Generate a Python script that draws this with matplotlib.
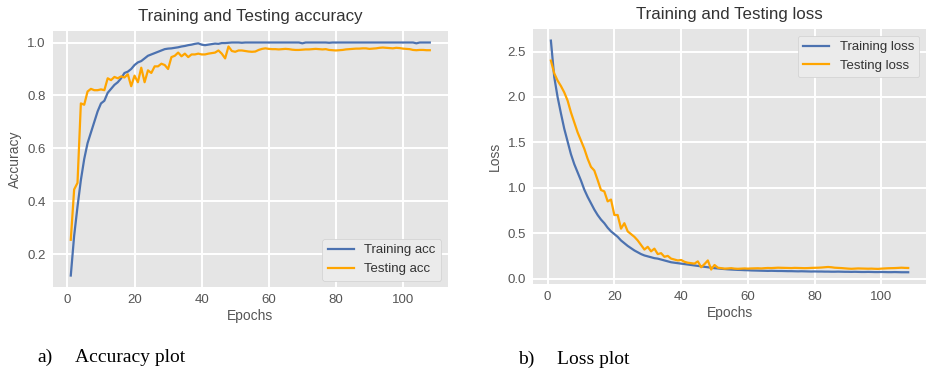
import matplotlib
matplotlib.use("Agg")
import matplotlib.pyplot as plt
import numpy as np

plt.style.use("ggplot")
plt.rcParams["font.family"] = ["Liberation Sans", "DejaVu Sans"]

epochs = np.arange(1, 109)

train_acc = [
    0.12, 0.27, 0.38, 0.48, 0.56, 0.62, 0.66, 0.70, 0.74, 0.77,
    0.78, 0.81, 0.825, 0.84, 0.85, 0.865, 0.885, 0.89, 0.90, 0.915,
    0.925, 0.93, 0.94, 0.95, 0.955, 0.96, 0.965, 0.97, 0.975, 0.977,
    0.978, 0.98, 0.982, 0.985, 0.987, 0.99, 0.992, 0.995, 0.997, 0.992,
    0.99, 0.992, 0.994, 0.996, 0.995, 0.998, 0.998, 0.999, 1.0, 1.0,
    1.0, 0.999, 1.0, 1.0, 1.0, 1.0, 1.0, 1.0, 1.0, 1.0,
    1.0, 1.0, 1.0, 1.0, 1.0, 1.0, 1.0, 1.0, 1.0, 0.997,
    1.0, 1.0, 1.0, 1.0, 1.0, 1.0, 1.0, 0.999, 1.0, 1.0,
    1.0, 1.0, 1.0, 1.0, 1.0, 1.0, 1.0, 1.0, 1.0, 1.0,
    1.0, 1.0, 1.0, 1.0, 1.0, 1.0, 1.0, 1.0, 1.0, 1.0,
    1.0, 1.0, 1.0, 0.997, 1.0, 1.0, 1.0, 1.0,
]

test_acc = [
    0.255, 0.445, 0.47, 0.77, 0.765, 0.815, 0.825, 0.82, 0.82, 0.823,
    0.82, 0.865, 0.858, 0.87, 0.865, 0.872, 0.868, 0.88, 0.835, 0.875,
    0.85, 0.905, 0.85, 0.895, 0.885, 0.91, 0.91, 0.92, 0.915, 0.90,
    0.945, 0.95, 0.962, 0.948, 0.958, 0.945, 0.955, 0.955, 0.958, 0.955,
    0.955, 0.958, 0.96, 0.962, 0.97, 0.958, 0.94, 0.985, 0.968, 0.965,
    0.97, 0.97, 0.968, 0.966, 0.965, 0.966, 0.972, 0.976, 0.978, 0.976,
    0.975, 0.975, 0.974, 0.975, 0.976, 0.975, 0.973, 0.972, 0.972, 0.973,
    0.974, 0.974, 0.975, 0.976, 0.975, 0.974, 0.975, 0.972, 0.971, 0.970,
    0.971, 0.972, 0.974, 0.975, 0.976, 0.977, 0.977, 0.978, 0.978, 0.976,
    0.977, 0.978, 0.98, 0.981, 0.98, 0.979, 0.978, 0.98, 0.979, 0.977,
    0.976, 0.975, 0.972, 0.971, 0.972, 0.972, 0.971, 0.971,
]

train_loss = [
    2.62, 2.22, 2.0, 1.82, 1.65, 1.51, 1.37, 1.26, 1.17, 1.08,
    0.98, 0.90, 0.83, 0.76, 0.70, 0.65, 0.61, 0.56, 0.52, 0.49,
    0.46, 0.42, 0.39, 0.36, 0.335, 0.31, 0.29, 0.27, 0.255, 0.245,
    0.235, 0.225, 0.22, 0.21, 0.20, 0.19, 0.18, 0.175, 0.17, 0.165,
    0.16, 0.155, 0.15, 0.145, 0.14, 0.135, 0.13, 0.125, 0.12, 0.115,
    0.112, 0.108, 0.105, 0.102, 0.10, 0.098, 0.096, 0.095, 0.093, 0.092,
    0.09, 0.089, 0.088, 0.087, 0.086, 0.085, 0.086, 0.085, 0.084, 0.084,
    0.083, 0.082, 0.082, 0.081, 0.08, 0.081, 0.08, 0.079, 0.078, 0.079,
    0.078, 0.078, 0.077, 0.077, 0.076, 0.076, 0.077, 0.076, 0.075, 0.075,
    0.074, 0.075, 0.074, 0.073, 0.073, 0.074, 0.073, 0.072, 0.072, 0.073,
    0.072, 0.071, 0.071, 0.072, 0.071, 0.07, 0.07, 0.07,
]

test_loss = [
    2.40, 2.26, 2.18, 2.12, 2.05, 1.96, 1.83, 1.72, 1.61, 1.52,
    1.43, 1.32, 1.23, 1.19, 1.085, 0.975, 0.96, 0.85, 0.87, 0.70,
    0.70, 0.55, 0.61, 0.52, 0.49, 0.46, 0.42, 0.37, 0.32, 0.35,
    0.30, 0.33, 0.27, 0.28, 0.24, 0.25, 0.22, 0.21, 0.20, 0.205,
    0.185, 0.175, 0.17, 0.165, 0.19, 0.125, 0.16, 0.20, 0.10, 0.15,
    0.12, 0.115, 0.11, 0.112, 0.115, 0.11, 0.108, 0.11, 0.112, 0.11,
    0.112, 0.113, 0.114, 0.112, 0.115, 0.117, 0.116, 0.118, 0.12, 0.119,
    0.118, 0.117, 0.116, 0.118, 0.117, 0.116, 0.115, 0.116, 0.118, 0.119,
    0.12, 0.122, 0.125, 0.128, 0.125, 0.12, 0.118, 0.116, 0.113, 0.11,
    0.108, 0.11, 0.112, 0.111, 0.11, 0.109, 0.11, 0.108, 0.107, 0.11,
    0.112, 0.114, 0.115, 0.116, 0.118, 0.12, 0.118, 0.117,
]

blue = "#4C72B0"
orange = "#FFA500"
grey = "#555555"

fig = plt.figure(figsize=(9.27, 3.72), dpi=100)
fig.patch.set_facecolor("white")
ax1 = fig.add_axes([0.057, 0.228, 0.426, 0.689])
ax2 = fig.add_axes([0.575, 0.237, 0.424, 0.685])


def style(ax):
    ax.set_facecolor("#E5E5E5")
    ax.grid(True, color="white", linewidth=1.4)
    ax.tick_params(length=0, labelsize=9.5, colors=grey, pad=5)
    for s in ax.spines.values():
        s.set_visible(False)


# accuracy
ax1.plot(epochs, train_acc, color=blue, lw=1.6, label="Training acc")
ax1.plot(epochs, test_acc, color=orange, lw=1.6, label="Testing acc")
style(ax1)
ax1.set_yticks([0.2, 0.4, 0.6, 0.8, 1.0])
ax1.set_title("Training and Testing accuracy", fontsize=12.2, color="#333333", pad=7)
ax1.set_xlabel("Epochs", fontsize=10, color=grey, labelpad=2)
ax1.set_ylabel("Accuracy", fontsize=10, color=grey, labelpad=4)
leg = ax1.legend(loc="lower right", fontsize=9.5, facecolor="#EBEBEB",
                 edgecolor="#D0D0D0", framealpha=1)
for t in leg.get_texts():
    t.set_color("#333333")

# loss
ax2.plot(epochs, train_loss, color=blue, lw=1.6, label="Training loss")
ax2.plot(epochs, test_loss, color=orange, lw=1.6, label="Testing loss")
style(ax2)
ax2.set_yticks([0.0, 0.5, 1.0, 1.5, 2.0, 2.5])
ax2.set_title("Training and Testing loss", fontsize=12.2, color="#333333", pad=7)
ax2.set_xlabel("Epochs", fontsize=10, color=grey, labelpad=2)
ax2.set_ylabel("Loss", fontsize=10, color=grey, labelpad=4)
leg = ax2.legend(loc="upper right", fontsize=9.5, facecolor="#EBEBEB",
                 edgecolor="#D0D0D0", framealpha=1)
for t in leg.get_texts():
    t.set_color("#333333")

# captions
cap = dict(fontsize=14, family="Liberation Serif", va="center", color="black")
fig.text(0.040, 0.040, "a)", **cap)
fig.text(0.081, 0.040, "Accuracy plot", **cap)
fig.text(0.559, 0.034, "b)", **cap)
fig.text(0.601, 0.034, "Loss plot", **cap)

fig.savefig("out.png", dpi=100)
